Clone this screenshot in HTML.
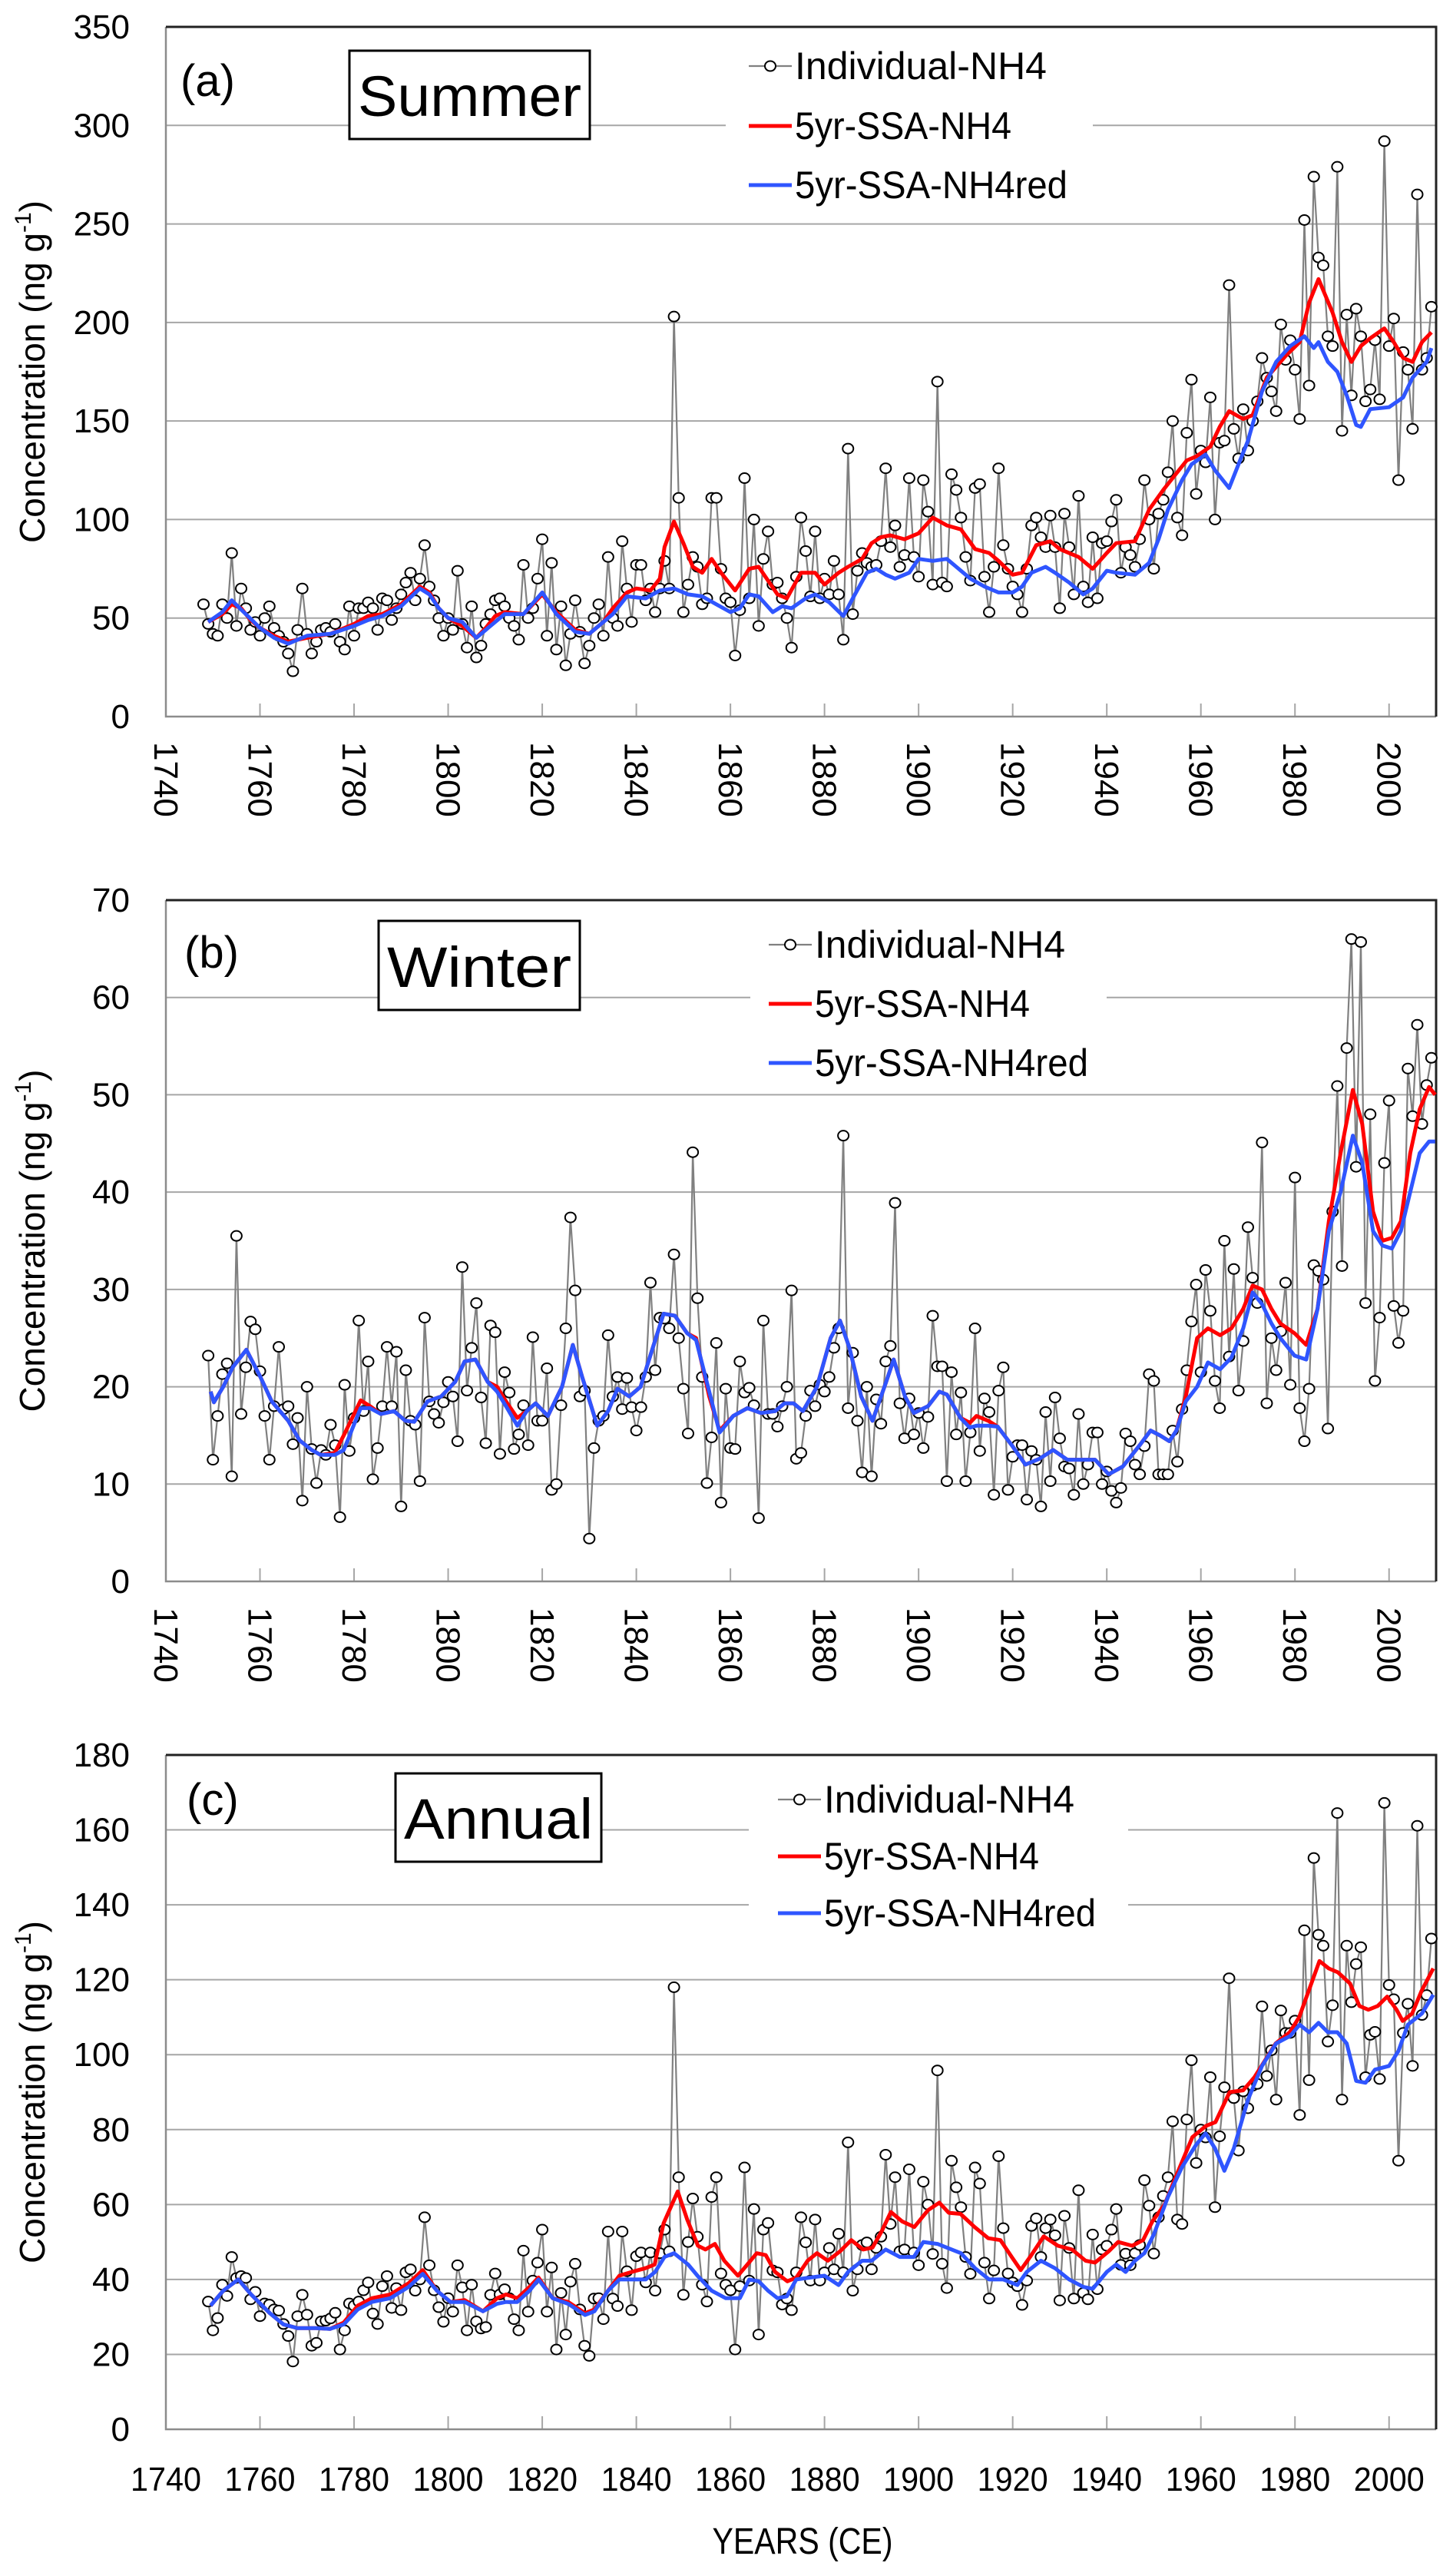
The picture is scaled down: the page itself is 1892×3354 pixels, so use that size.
<!DOCTYPE html>
<html>
<head>
<meta charset="utf-8">
<title>NH4 concentration: Summer, Winter, Annual</title>
<style>
html,body{margin:0;padding:0;background:#fff;}
svg{display:block;font-family:"Liberation Sans",Arial,sans-serif;}
</style>
</head>
<body>
<svg id="fig" width="1892" height="3354" viewBox="0 0 1892 3354" xmlns="http://www.w3.org/2000/svg">
<rect x="0" y="0" width="1892" height="3354" fill="#fff"/>
</svg>
<script>
// ---------- shared axis data ----------
const xTickYears = [1740,1760,1780,1800,1820,1840,1860,1880,1900,1920,1940,1960,1980,2000];
const yTicksA = [0,50,100,150,200,250,300,350];
const yTicksB = [0,10,20,30,40,50,60,70];
const yTicksC = [0,20,40,60,80,100,120,140,160,180];
const legendLabels = ["Individual-NH4","5yr-SSA-NH4","5yr-SSA-NH4red"];

// ---------- (a) Summer ----------
const summerStart = 1748;
const summerVals = [
57,47,42,41,57,50,83,46,65,55,
44,48,41,50,56,45,41,38,32,23,
44,65,42,32,38,44,45,43,47,38,
34,56,41,55,55,58,55,44,60,59,
49,55,62,68,73,59,70,87,66,59,
50,41,50,44,74,47,35,56,30,36,
47,52,59,60,56,50,46,39,77,50,
55,70,90,41,78,34,56,26,42,59,
43,27,36,50,57,41,81,50,46,89,
65,48,77,77,59,65,53,65,79,65,
203,111,53,67,81,76,57,60,111,111,
75,60,58,31,54,121,60,100,46,80,
94,67,68,60,50,35,71,101,84,61,
94,60,70,62,79,62,39,136,52,74,
83,78,76,77,89,126,86,97,76,82,
121,81,71,120,104,67,170,68,66,123,
115,101,81,69,116,118,71,53,76,126,
87,75,66,62,53,75,97,101,91,86,
102,86,55,103,86,62,112,66,58,91,
60,88,89,99,110,73,86,82,76,90,
120,100,75,103,110,124,150,101,92,144,
171,113,135,129,162,100,139,140,219,146,
131,156,135,150,160,182,172,165,155,199,
181,191,176,151,252,168,274,233,229,193,
188,279,145,204,163,207,193,160,166,191,
161,292,188,202,120,185,176,146,265,176,
182,208];
const summerRedYears = [1749,1752,1754,1756,1758,1760,1763,1766,1770,1775,1780,1783,1786,1790,1794,1796,1798,1800,1803,1806,1808,1810,1812,1816,1820,1823,1827,1830,1833,1835,1838,1840,1843,1845,1846,1848,1850,1852,1854,1856,1858,1861,1864,1866,1868,1870,1872,1875,1878,1880,1883,1885,1888,1890,1892,1894,1897,1900,1903,1906,1909,1912,1915,1917,1920,1922,1925,1928,1930,1934,1937,1940,1942,1946,1949,1952,1954,1957,1959,1962,1964,1966,1969,1971,1974,1978,1981,1983,1985,1988,1990,1992,1994,1996,1999,2001,2003,2005,2007,2009];
const summerRedVals = [48,52,57,55,49,45,41,38,40,42,47,51,52,57,66,63,55,50,46,40,45,51,53,52,62,53,44,42,48,55,63,65,64,70,86,99,88,76,73,80,73,64,75,76,69,62,60,73,73,67,73,76,80,88,91,92,90,93,101,97,95,85,83,79,72,73,87,89,85,81,75,83,88,89,105,115,121,130,132,137,147,155,151,153,172,183,190,210,222,205,190,180,188,192,197,190,182,180,190,195];
const summerBlueYears = [1749,1752,1754,1757,1760,1763,1766,1770,1775,1780,1783,1786,1790,1794,1796,1798,1800,1803,1806,1810,1812,1816,1820,1823,1827,1830,1835,1838,1842,1845,1848,1851,1854,1857,1860,1862,1864,1866,1869,1871,1873,1876,1878,1881,1884,1886,1889,1891,1893,1895,1898,1900,1903,1906,1908,1911,1914,1917,1920,1922,1924,1927,1929,1932,1935,1937,1940,1942,1946,1949,1951,1953,1956,1958,1961,1963,1966,1968,1970,1973,1976,1979,1982,1984,1985,1987,1989,1991,1993,1994,1996,2000,2003,2005,2008,2009];
const summerBlueVals = [48,53,59,52,45,40,37,41,42,46,49,51,56,65,62,55,50,48,40,48,52,52,63,52,43,42,52,61,60,64,65,62,61,57,53,55,62,61,53,56,55,60,62,58,51,60,73,75,72,70,73,80,79,80,76,70,66,63,63,66,73,76,73,68,62,65,74,73,72,78,90,105,120,128,133,125,116,128,140,165,180,188,193,187,190,180,175,163,148,147,156,157,162,172,180,187];

// ---------- (b) Winter ----------
const winterStart = 1749;
const winterVals = [
23.2,12.5,17,21.3,22.4,10.8,35.5,17.2,22,26.7,
25.9,21.6,17,12.5,18,24.1,17.7,18,14.1,16.8,
8.3,20,13.6,10.1,13.5,13,16.1,14,6.6,20.2,
13.4,16.8,26.8,17.5,22.6,10.5,13.7,18,24.1,18,
23.6,7.7,21.7,16.5,16.1,10.3,27.1,18.5,17.2,16.3,
18.4,20.5,19,14.4,32.3,19.6,24,28.6,18.9,14.2,
26.3,25.6,13.1,21.5,19.4,13.6,15.1,18.1,14,25.1,
16.5,16.5,21.9,9.4,10,18.1,26,37.4,29.9,19,
19.6,4.4,13.7,16.5,17,25.3,19,21,17.7,20.9,
17.9,15.5,17.9,21,30.7,21.7,27.1,27,26,33.6,
25,19.8,15.2,44.1,29.1,21,10.1,14.8,24.5,8.1,
19.8,13.7,13.6,22.6,19.4,19.9,18.1,6.5,26.8,17.2,
17.2,15.9,18,20,29.9,12.6,13.2,17,19.6,18,
20.2,19.5,21,24,26,45.8,17.8,23.5,16.5,11.2,
20,10.8,18.7,16.2,22.6,24.2,38.9,18.3,14.7,18.8,
15.1,17.3,13.7,16.9,27.3,22.1,22.1,10.3,21.5,15.1,
19.4,10.3,15.3,26,13.4,18.8,17.4,8.9,19.6,22,
9.4,12.8,14,14,8.4,13.4,12.5,7.7,17.4,10.3,
18.9,14.7,11.8,11.6,8.9,17.2,10,12,15.3,15.3,
10,11.3,9.3,8.1,9.6,15.2,14.4,12,11,13.9,
21.3,20.6,11,11,11,15.5,12.3,17.7,21.7,26.7,
30.5,21.5,32,27.8,20.6,17.8,35,23.1,32.1,19.6,
24.7,36.4,31.2,28.6,45.1,18.3,25,21.7,25.7,30.7,
20.2,41.5,17.8,14.4,19.8,32.5,31.9,31,15.7,38,
50.9,32.4,54.8,66,42.6,65.7,28.6,48,20.6,27.1,
43,49.4,28.3,24.5,27.8,52.7,47.8,57.2,47,51,
53.8];
const winterSmoothYears = [1749.5,1750.2,1752.2,1754.2,1757.1,1760.1,1762.5,1766,1768.4,1771,1772.9,1775.9,1777.8,1781.4,1783.4,1785.7,1788.5,1790.9,1792.8,1795.6,1798.5,1801.5,1803.5,1805.8,1808.4,1810.4,1812.3,1814.7,1816.7,1818.6,1821.2,1824.2,1826.5,1828.5,1831.7,1834,1836,1838.5,1840.9,1843.5,1845.8,1848.2,1850.8,1852.7,1855.5,1857.7,1860.6,1863.6,1866.5,1869.5,1871.5,1873.4,1875.4,1878.4,1881.3,1883.3,1885.3,1887.8,1890.2,1893.1,1894.7,1897.1,1899,1902,1904.4,1906,1908.9,1910.9,1912.3,1914.8,1916.8,1919.8,1922.7,1925.7,1928.6,1931.6,1934.5,1937.5,1940.4,1943.4,1947,1949.3,1951.3,1953.3,1954.8,1956.8,1959.2,1961.5,1964.1,1966.5,1969,1971,1973,1975,1976.9,1979.9,1982.4,1984.8,1987.2,1989.7,1992.3,1994.3,1996.6,1998.6,2000.6,2002.5,2004.5,2006.5,2008.5,2009.8];
const winterRedVals = [19.5,18.4,20,22,23.8,21,18.5,16.5,14.5,13.5,13,13.2,15,18.6,18,17.2,17.5,16.5,16.4,18.5,19,20.5,22.6,22.8,20.5,20,18.5,16.8,17.5,18.3,17,20,24.3,21,16,17.5,19.8,19,20,24,27.5,27.3,25.5,25,19,15.5,17,17.8,17.3,17.5,18.3,18.3,17.5,20,25,26.8,24,19,16.5,20.5,22.8,19,17.3,18,19.5,19.2,16.8,16.3,17,16.5,15.9,14,12,12.6,13.5,12.5,12.5,12.5,11,11.8,14,15.5,15,14.4,15.5,19,25,26,25.3,26,28,30.4,30,28,26.5,25.5,24.3,28,37,44,50.5,47,38,35,35.3,37,44,48.5,50.8,50];
const winterBlueVals = [19.5,18.4,20,22,23.8,21,18.5,16.5,14.5,13.5,13,13,13.5,17.8,17.8,17.2,17.5,16.5,16.4,18.5,19,20.5,22.6,22.8,20.5,19.5,18,16,17.5,18.3,17,20,24.3,21,16,17.5,19.8,19,20,24,27.5,27.3,25.5,24.8,19.5,15.3,17,17.8,17.3,17.5,18.3,18.3,17.5,20,25,26.8,24,19,16.5,20.5,22.8,19,17.3,18,19.5,19.2,16.8,15.8,16,16,15.9,14,12,12.6,13.5,12.5,12.5,12.5,11,11.8,14,15.5,15,14.4,15.5,18.5,20,22.5,21.8,23,26,29.7,28.5,26.5,25,23.2,22.8,28,36,40,45.8,43,36,34.5,34.2,36,40,44,45.2,45.2];

// ---------- (c) Annual ----------
const annualStart = 1749;
const annualVals = [
34.1,26.4,29.7,38.6,35.6,46,40.4,40.9,40.4,34.7,
36.7,30.2,33.6,33.3,32,31.7,28.1,24.9,18.1,30.2,
35.9,30.6,22.3,23.1,28.8,29,29.6,31.1,21.3,26.4,
33.6,33,34.1,37.1,39.2,30.9,28.1,38.2,40.9,32.4,
37.7,31.8,41.9,42.7,37,40,56.6,43.8,37.1,32.6,
28.7,35,31.4,43.8,37.9,26.4,38.6,28.8,26.9,27.3,
35.9,41.6,36,37.4,35,29.4,26.4,47.7,31.4,39.7,
44.5,53.3,31.4,43.2,21.3,36.4,25.3,39.4,44.2,32,
22.3,19.6,34.9,35,29.4,52.8,34.9,32.9,52.8,42.2,
31.8,46.2,47.2,39.2,47.2,37,47,53.3,47.5,118,
67.3,35.9,50,61.6,51.4,38.6,34.1,62,67.3,41.6,
38.6,37.1,21.3,38.2,69.9,39.7,58.8,25.3,53.3,55.1,
42.4,41.9,33.3,34.9,31.8,41.9,56.6,49.9,39.7,56,
39.7,41.9,48.4,42.7,52.2,41.9,76.6,37,42.7,49.2,
49.9,42.7,48.4,51.4,73.3,54.8,67.3,47.5,48,69.4,
47.2,43.8,66.1,60,46.8,95.8,44.2,37.7,71.7,64.6,
59.3,46,41.5,69.9,65.6,44.5,34.9,42.4,72.9,53.7,
41.6,39.2,38.2,33.2,39.7,54.3,56.3,46,53.7,56,
51.8,34.4,57,48.4,34.9,63.8,36.4,34.7,52,37.4,
48,49,53.3,58.8,43.9,46.9,43.8,47,49.2,66.5,
59.7,46.9,56.6,62.3,67.3,82.2,56,54.8,82.7,98.5,
71.1,80,77.9,94,59.3,78.2,91.3,120.4,88.4,74.4,
90.2,85.7,91.7,92.2,112.9,94.3,101.2,88,111.8,105.8,
105.8,109.1,83.9,133.2,93.2,152.5,132,129.1,103.5,113.2,
164.5,88,129.1,114,124.2,128.7,94,105.3,106.1,93.5,
167.2,118.6,114.8,71.7,105.8,113.6,97,161.1,110.6,115.9,
131];
const annualRedYears = [1749.5,1752.2,1755.4,1758.1,1762.1,1765,1768,1771.9,1774.9,1777.8,1780.8,1783.8,1787.7,1791.6,1794.6,1797.6,1800.5,1803.5,1807.4,1810.4,1812.3,1814.7,1817.3,1819.2,1822.2,1825.5,1829.1,1831.1,1834,1836.4,1839,1841.9,1843.9,1845.8,1848.8,1850.8,1853.1,1854.7,1856.7,1858.7,1861.6,1863.6,1865.6,1867.5,1869.5,1872.1,1874,1876.4,1878.4,1880.7,1883.3,1885.7,1888.2,1890.2,1892.2,1894.1,1896.5,1899.1,1902,1904.4,1906.4,1908.9,1911.9,1914.8,1917.4,1919.8,1921.7,1923.7,1926.6,1929.6,1932.6,1935.5,1937.5,1940.4,1942.4,1945.4,1947.7,1949.7,1952.3,1954.2,1956.2,1958.2,1961.1,1963.1,1966.1,1969,1971.4,1973.4,1975.9,1978.9,1980.9,1983.2,1985.2,1987.2,1989.1,1991.7,1993.7,1995.6,1997.6,1999.6,2001.6,2002.9,2004.9,2006.9,2009.4];
const annualRedVals = [33,37,40,36,31,28,27,27,26.8,28.5,33,35,36,39,42.5,37,34,34.5,31.5,35,36,35,38,40.5,35,34,31,32,37,41,42,43,44,55,63.5,56,49,48,49.5,45,41,44,47,46.5,42,39.5,40.5,45,47,45,47.5,50.5,48,48.5,53,58,55.5,54,58.5,60.5,57.8,57.5,54,51,50.5,46,42.5,46,51.5,49,48,45,44.5,47.5,50,49,50.5,55.5,60,66,72,78,81,82,90,90.5,94,98,103,106,110,118,125,123,122,119,113,112,113,115.5,112,109,111,117,123];
const annualBlueYears = [1749.5,1752.2,1755.4,1758.1,1762.1,1765,1768,1771.9,1774.9,1777.8,1780.8,1783.8,1787.7,1791.6,1794.6,1797.6,1800.5,1803.5,1807.4,1810.4,1812.3,1814.7,1817.3,1819.2,1822.2,1825.5,1829.1,1831.1,1834,1836.4,1839,1842,1844,1846,1848,1851,1853,1856,1859,1862,1864,1866,1868,1870,1872,1874,1877,1880,1883,1885,1888,1890,1893,1896,1899,1901,1904,1906,1909,1912,1915,1918,1921,1923,1926,1929,1932,1935,1937,1940,1942,1944,1946,1948,1950,1953,1956,1959,1961,1963,1965,1967,1970,1973,1976,1979,1981,1983,1985,1987,1989,1991,1993,1995,1997,2000,2002,2004,2007,2009.4];
const annualBlueVals = [33,37,40,36,31,28,27,27,26.8,28,32,34,35,38,41.5,37,34,34,31.5,33.5,34,34,37,40,35,33.5,30.5,31.5,37,40,40,40,42,46,47,44,41,37,35,35,40,39.5,37,35,35.5,40,40.5,41,38.5,42,45,45,48,46,46,50,49.5,48.5,47,43,40,40,38.5,42,45,43,40,38,37.5,42,44,42,45,47,52,62,70,76,79,75,69,75,88,97,103,105,108,106,108.5,106,106,103,93,92.5,96,97,101,108,111,116];

// ---------- layout ----------
const X0 = 216, X1 = 1870, YR0 = 1740, YR1 = 2010;
function xScale(yr){ return X0 + (yr - YR0) / (YR1 - YR0) * (X1 - X0); }
function makeY(top, bottom, max){ return function(v){ return bottom - v / max * (bottom - top); }; }

const NS = "http://www.w3.org/2000/svg";
const svg = document.getElementById("fig");
function el(tag, attrs, parent){
  const e = document.createElementNS(NS, tag);
  for (const k in attrs) e.setAttribute(k, attrs[k]);
  (parent || svg).appendChild(e);
  return e;
}

const panels = [
  {key:"a", title:"Summer", top:35, bottom:933, max:350, yTicks:yTicksA,
   start:summerStart, vals:summerVals,
   redY:summerRedYears, redV:summerRedVals, blueY:summerBlueYears, blueV:summerBlueVals,
   rotLabels:true, labelY:966, tagX:235, tagY:125,
   box:[455,66,313,115], legBg:[945,60,478,215], legX:975, legTextX:1035, legRows:[86,164,241], legW:[328,282,355]},
  {key:"b", title:"Winter", top:1172, bottom:2059, max:70, yTicks:yTicksB,
   start:winterStart, vals:winterVals,
   redY:winterSmoothYears, redV:winterRedVals, blueY:winterSmoothYears, blueV:winterBlueVals,
   rotLabels:true, labelY:2093, tagX:240, tagY:1260,
   box:[493,1199,262,116], legBg:[977,1200,464,215], legX:1001, legTextX:1061, legRows:[1230,1307,1384], legW:[326,280,356]},
  {key:"c", title:"Annual", top:2285, bottom:3163, max:180, yTicks:yTicksC,
   start:annualStart, vals:annualVals,
   redY:annualRedYears, redV:annualRedVals, blueY:annualBlueYears, blueV:annualBlueVals,
   rotLabels:false, labelY:3243, tagX:243, tagY:2363,
   box:[515,2309,268,115], legBg:[975,2310,494,215], legX:1013, legTextX:1073, legRows:[2343,2417,2491], legW:[326,280,354]}
];

panels.forEach(function(p){
  const ys = makeY(p.top, p.bottom, p.max);
  const g = el("g", {});
  
  

  // gridlines
  p.yTicks.forEach(function(t){
    if (t === 0 || t === p.max) return;
    const gl = el("line", {x1:X0, x2:X1, y1:ys(t), y2:ys(t), stroke:"#a6a6a6", "stroke-width":2}, g);
    
    
  });
  // y tick labels
  p.yTicks.forEach(function(t){
    const tl = el("text", {x:169, y:ys(t)+15, "text-anchor":"end", "font-size":44, fill:"#000"}, g);
    tl.textContent = String(t);
    
    
  });
  // x ticks & labels
  xTickYears.forEach(function(yr){
    const x = xScale(yr);
    if (yr !== YR0) {
      const tk = el("line", {x1:x, x2:x, y1:p.bottom, y2:p.bottom-17, stroke:"#a6a6a6", "stroke-width":2}, g);
      
      
    }
    let xl;
    if (p.rotLabels) {
      xl = el("text", {x:0, y:0, "font-size":44, fill:"#000", transform:"translate(" + (x-15) + "," + p.labelY + ") rotate(90)"}, g);
    } else {
      xl = el("text", {x:x, y:p.labelY, "text-anchor":"middle", "font-size":44, fill:"#000", textLength:92, lengthAdjust:"spacingAndGlyphs"}, g);
    }
    xl.textContent = String(yr);
    
    
  });

  // axes / frame
  const ax = el("path", {d:"M"+X0+" "+p.top+" L"+X0+" "+p.bottom+" L"+X1+" "+p.bottom, fill:"none", stroke:"#8c8c8c", "stroke-width":2.5}, g);
  
  
  const fr = el("path", {d:"M"+X0+" "+p.top+" L"+X1+" "+p.top+" L"+X1+" "+p.bottom, fill:"none", stroke:"#222", "stroke-width":3}, g);
  
  

  // y-axis title
  const mid = (p.top + p.bottom) / 2;
  const yt = el("text", {x:0, y:0, "text-anchor":"middle", "font-size":46, fill:"#000", transform:"translate(58," + mid + ") rotate(-90)"}, g);
  
  
  yt.appendChild(document.createTextNode("Concentration (ng g"));
  const sup = el("tspan", {"font-size":30, dy:-18}, yt);
  sup.textContent = "-1";
  const cl = el("tspan", {dy:18}, yt);
  cl.textContent = ")";

  // individual series
  let pts = [];
  for (let i = 0; i < p.vals.length; i++) pts.push(xScale(p.start + i).toFixed(1) + "," + ys(p.vals[i]).toFixed(1));
  const gl2 = el("polyline", {points:pts.join(" "), fill:"none", stroke:"#808080", "stroke-width":2.2}, g);
  
  
  for (let i = 0; i < p.vals.length; i++) {
    const c = el("ellipse", {cx:xScale(p.start + i), cy:ys(p.vals[i]), rx:7, ry:6.5, fill:"#fff", stroke:"#000", "stroke-width":2}, g);
    
    
  }
  // smoothed series
  let rp = [];
  for (let i = 0; i < p.redY.length; i++) rp.push(xScale(p.redY[i]).toFixed(1) + "," + ys(p.redV[i]).toFixed(1));
  const rl = el("polyline", {points:rp.join(" "), fill:"none", stroke:"#ff0000", "stroke-width":5, "stroke-linejoin":"round"}, g);
  
  
  let bp = [];
  for (let i = 0; i < p.blueY.length; i++) bp.push(xScale(p.blueY[i]).toFixed(1) + "," + ys(p.blueV[i]).toFixed(1));
  const bl = el("polyline", {points:bp.join(" "), fill:"none", stroke:"#2f55ff", "stroke-width":5, "stroke-linejoin":"round"}, g);
  
  

  // panel tag
  const tag = el("text", {x:p.tagX, y:p.tagY, "font-size":58, fill:"#000"}, g);
  tag.textContent = "(" + p.key + ")";
  
  

  // season box
  const bx = el("rect", {x:p.box[0], y:p.box[1], width:p.box[2], height:p.box[3], fill:"#fff", stroke:"#000", "stroke-width":3}, g);
  
  
  const bt = el("text", {x:p.box[0] + p.box[2]/2, y:p.box[1] + p.box[3]*0.74, "text-anchor":"middle", "font-size":74, fill:"#000", textLength:p.box[2]-22, lengthAdjust:"spacingAndGlyphs"}, g);
  bt.textContent = p.title;
  
  

  // legend
  const lg = el("g", {}, g);
  
  
  const lb = el("rect", {x:p.legBg[0], y:p.legBg[1], width:p.legBg[2], height:p.legBg[3], fill:"#fff"}, lg);
  
  
  const colors = ["#808080", "#ff0000", "#2f55ff"];
  const widths = [2.2, 5, 5];
  for (let i = 0; i < 3; i++) {
    const ry = p.legRows[i];
    const ent = el("g", {}, lg);
    
    
    el("line", {x1:p.legX, x2:p.legX+56, y1:ry, y2:ry, stroke:colors[i], "stroke-width":widths[i]}, ent);
    if (i === 0) el("ellipse", {cx:p.legX+28, cy:ry, rx:7, ry:6.5, fill:"#fff", stroke:"#000", "stroke-width":2}, ent);
    const lt = el("text", {x:p.legTextX, y:ry+17, "font-size":50, fill:"#000", textLength:p.legW[i], lengthAdjust:"spacingAndGlyphs"}, ent);
    lt.textContent = legendLabels[i];
  }
});

// x-axis title for bottom panel
const xt = el("text", {x:1045, y:3325, "text-anchor":"middle", "font-size":48, fill:"#000", textLength:235, lengthAdjust:"spacingAndGlyphs"});
xt.textContent = "YEARS (CE)";


</script>
</body>
</html>
